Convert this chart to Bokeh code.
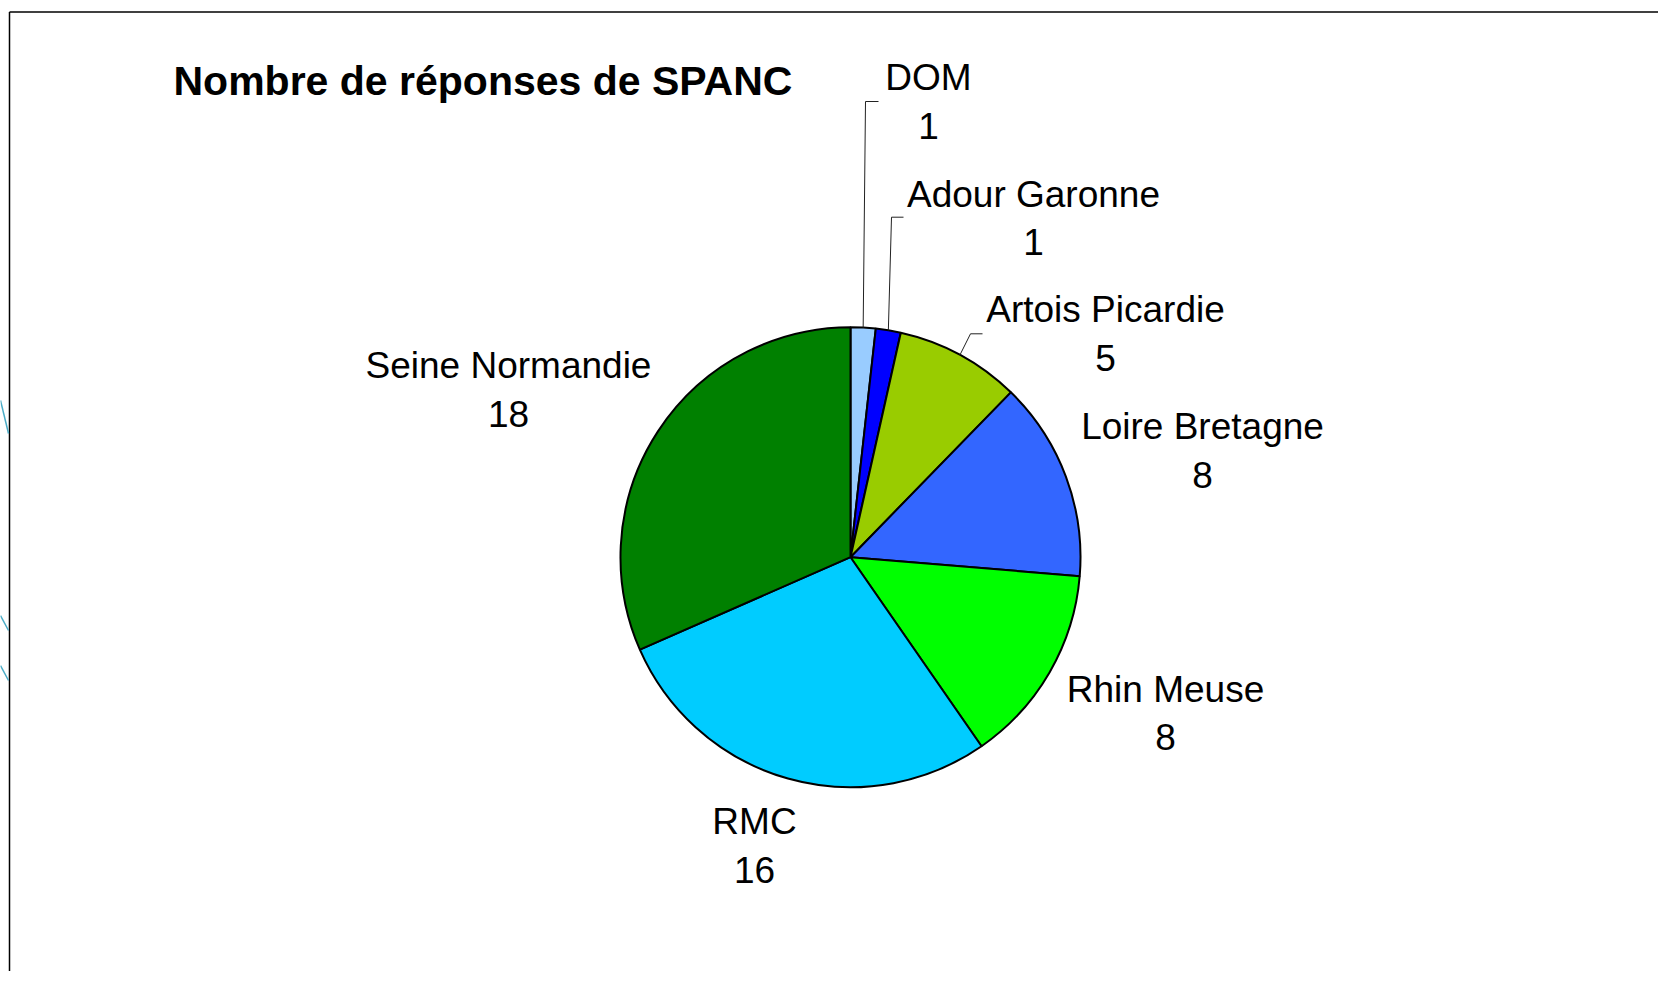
import math
from bokeh.plotting import figure
from bokeh.models import Range1d, ColumnDataSource
from bokeh.core.properties import value
from bokeh.embed import file_html
from bokeh.resources import INLINE

# ---- data ----
regions = ["DOM", "Adour Garonne", "Artois Picardie", "Loire Bretagne",
           "Rhin Meuse", "RMC", "Seine Normandie"]
counts = [1, 1, 5, 8, 8, 16, 18]
colors = ["#99CCFF", "#0000FF", "#99CC00", "#3366FF", "#00FF00", "#00CCFF", "#008000"]
title_text = "Nombre de réponses de SPANC"

# ---- layout (screen pixel coords, y downward) ----
W, H = 1658, 971
def Y(y):
    return H - y
def X(x):
    return x

cx, cy, R = 850, 556.7, 230
label_cx = [928, 1033, 1105, 1202, 1165, 754, 508]
label_base = [77, 193.5, 309, 426, 688.5, 821, 365]
value_gap = 48
leader_idx = [0, 1, 2]
elbow_x = [865, 891, 970]
elbow_y = [101, 216.7, 333.3]
elbow_end = [878, 903, 982]
title_base = 80.7

p = figure(width=W, height=H, output_backend="svg", toolbar_location=None,
           x_range=Range1d(0, W), y_range=Range1d(0, H),
           min_border=0, outline_line_color=None)
p.axis.visible = False
p.grid.visible = False
p.background_fill_color = "white"
p.border_fill_color = "white"

# frame border (top and left)
p.line(x=[X(9), W], y=[Y(11.5), Y(11.5)], line_color="black", line_width=1.5)
p.line(x=[X(9), X(9)], y=[Y(11.5), 0], line_color="black", line_width=1.5)

# small decorative teal strokes at the left edge
p.line(x=[X(0), X(8)], y=[Y(400), Y(433)], line_color="#4BACC6", line_width=1.5)
p.line(x=[X(0), X(8)], y=[Y(615), Y(630)], line_color="#4BACC6", line_width=1.5)
p.line(x=[X(0), X(8)], y=[Y(665), Y(680)], line_color="#4BACC6", line_width=1.5)

# pie
total = float(sum(counts))
cum = [0.0]
for c in counts:
    cum.append(cum[-1] + c)
start_a = [math.pi / 2 - 2 * math.pi * cum[i + 1] / total for i in range(len(counts))]
end_a = [math.pi / 2 - 2 * math.pi * cum[i] / total for i in range(len(counts))]
src = ColumnDataSource(dict(x=[X(cx)] * len(counts), y=[Y(cy)] * len(counts),
                            s=start_a, e=end_a, c=colors))
p.wedge(x="x", y="y", radius=R, start_angle="s", end_angle="e", fill_color="c",
        line_color="black", line_width=2, source=src)

# leader lines
for k, i in enumerate(leader_idx):
    mid = 2 * math.pi * (cum[i] + cum[i + 1]) / 2 / total
    sx = cx + R * math.sin(mid)
    sy = cy - R * math.cos(mid)
    p.line(x=[X(sx), X(elbow_x[k]), X(elbow_end[k])],
           y=[Y(sy), Y(elbow_y[k]), Y(elbow_y[k])],
           line_color="#222222", line_width=1)

# labels
lsrc = ColumnDataSource(dict(
    x=[X(v) for v in label_cx],
    y1=[Y(b) for b in label_base],
    y2=[Y(b + value_gap) for b in label_base],
    name=regions,
    val=[str(v) for v in counts]))
p.text(x="x", y="y1", text="name", source=lsrc, text_align="center",
       text_baseline="alphabetic", text_font=value("Liberation Sans"),
       text_font_size="37px", text_color="black")
p.text(x="x", y="y2", text="val", source=lsrc, text_align="center",
       text_baseline="alphabetic", text_font=value("Liberation Sans"),
       text_font_size="37px", text_color="black")

# title
p.text(x=[X(173)], y=[Y(title_base)], text=[title_text], text_align="left",
       text_baseline="alphabetic", text_font=value("Liberation Sans"),
       text_font_style="bold", text_font_size="41px", text_color="black")

open("out.html", "w").write(file_html(p, INLINE))
